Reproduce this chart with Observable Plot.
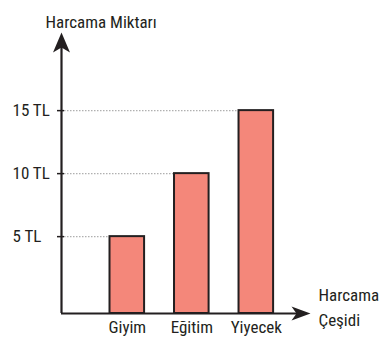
<!DOCTYPE html>
<html><head><meta charset="utf-8">
<script src="https://cdn.jsdelivr.net/npm/d3@7"></script>
<script src="https://cdn.jsdelivr.net/npm/@observablehq/plot@0.6"></script>
<style>body{margin:0;background:#fff}#chart{width:387px;height:360px}</style>
</head><body><div id="chart"></div>
<script>
const categories = ["Giyim", "Eğitim", "Yiyecek"];
const values = [5, 10, 15];
const tickValues = [5, 10, 15];
const tickLabels = ["5 TL", "10 TL", "15 TL"];
const yTitle = "Harcama Miktarı";
const xTitle = "Harcama\nÇeşidi";

const yDomain = [-1.1, 21.2];
const xDomain = [-0.02, 3.84];
const halfBar = 0.268;
const ink = "#231f20";
const font = '"Liberation Sans Narrow", "Arial Narrow", "Roboto Condensed", "DejaVu Sans Condensed", sans-serif';

const data = categories.map((c, i) => ({category: c, value: values[i], pos: i + 1}));

const arrowUp = {draw(ctx) { ctx.moveTo(0, 0); ctx.lineTo(8.5, 20); ctx.lineTo(0, 15); ctx.lineTo(-8.5, 20); ctx.closePath(); }};
const arrowRight = {draw(ctx) { ctx.moveTo(0, 0); ctx.lineTo(-19, 7); ctx.lineTo(-14, 0); ctx.lineTo(-19, -7); ctx.closePath(); }};

const chart = Plot.plot({
  width: 387, height: 360,
  marginLeft: 61, marginRight: 77, marginTop: 32, marginBottom: 47,
  style: {fontFamily: font, fontSize: "17px", color: ink, background: "#fff"},
  x: {domain: xDomain, axis: null},
  y: {domain: yDomain, axis: null},
  marks: [
    Plot.ruleY(data, {y: "value", x1: xDomain[0], x2: d => d.pos - halfBar, stroke: "#b0b0b0", strokeWidth: 1.2, strokeDasharray: "1.5,1.5", insetLeft: 3}),
    Plot.rectY(data, {x1: d => d.pos - halfBar, x2: d => d.pos + halfBar, y1: yDomain[0], y2: "value", fill: "#f4877a", stroke: ink, strokeWidth: 2}),
    Plot.ruleX([0], {x: xDomain[0], y1: yDomain[0], y2: yDomain[1] - 0.8, stroke: ink, strokeWidth: 2.2}),
    Plot.ruleY([0], {y: yDomain[0], x1: xDomain[0], x2: xDomain[1] - 0.15, stroke: ink, strokeWidth: 2.2}),
    Plot.dot([0], {x: xDomain[0], y: yDomain[1], symbol: arrowUp, fill: ink, stroke: "none"}),
    Plot.dot([0], {x: xDomain[1], y: yDomain[0], symbol: arrowRight, fill: ink, stroke: "none"}),
    Plot.ruleY(tickValues, {y: d => d, x1: xDomain[0], x2: xDomain[0], insetLeft: -4, insetRight: -3, stroke: ink, strokeWidth: 1.5}),
    Plot.text(tickValues, {y: d => d, text: (d, i) => tickLabels[i], frameAnchor: "left", textAnchor: "start", dx: -49, fontSize: 17, fill: ink}),
    Plot.text([yTitle], {frameAnchor: "top-left", textAnchor: "start", dx: -16, dy: -17, fontSize: 17, fill: ink}),
    Plot.text(data, {x: "pos", text: "category", frameAnchor: "bottom", dy: 19, fontSize: 17, fill: ink}),
    Plot.text([xTitle], {frameAnchor: "bottom-right", textAnchor: "start", dx: 8, dy: 12, lineHeight: 1.45, fontSize: 17, fill: ink})
  ]
});
document.getElementById("chart").append(chart);
</script>
</body></html>
